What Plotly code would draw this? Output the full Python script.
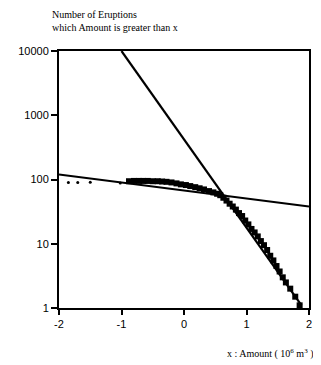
import plotly.graph_objects as go

# Data: log10 amount (10^6 m^3) vs cumulative number of eruptions
amount_log = [-1.85, -1.70, -1.50, -1.02, -0.88, -0.80, -0.72, -0.65, -0.58, -0.50,
              -0.42, -0.35, -0.28, -0.20, -0.12, -0.05, 0.03, 0.10, 0.18, 0.25,
              0.32, 0.40, 0.47, 0.53, 0.58, 0.63, 0.68, 0.73, 0.78, 0.83,
              0.88, 0.93, 0.98, 1.03, 1.08, 1.13, 1.18, 1.23, 1.28, 1.33,
              1.38, 1.43, 1.48, 1.53, 1.58, 1.63, 1.70, 1.78, 1.85]
counts = [90, 90, 91, 88, 94, 95, 95, 95, 95, 94,
          94, 93, 92, 90, 87, 84, 82, 79, 76, 73,
          70, 66, 63, 60, 57, 52, 47, 42, 38, 34,
          30, 27, 23, 20, 17, 15, 13, 11, 9.5, 8,
          6.5, 5.5, 4.5, 3.7, 3.0, 2.5, 2.0, 1.5, 1.1]

# Fitted lines (endpoints)
steep_x = [-1.0, 1.88]
steep_y = [10000, 1.1]
shallow_x = [-2.0, 2.0]
shallow_y = [120, 38]

x_ticks = [-2, -1, 0, 1, 2]
x_tick_labels = ["-2", "-1", "0", "1", "2"]
y_ticks = [1, 10, 100, 1000, 10000]
y_tick_labels = ["1", "10", "100", "1000", "10000"]

fig = go.Figure()
fig.add_trace(go.Scatter(x=shallow_x, y=shallow_y, mode="lines",
                         line=dict(color="black", width=2), showlegend=False))
fig.add_trace(go.Scatter(x=steep_x, y=steep_y, mode="lines",
                         line=dict(color="black", width=2.2), showlegend=False))
fig.add_trace(go.Scatter(x=amount_log[:4], y=counts[:4], mode="markers",
                         marker=dict(color="black", size=3, symbol="circle"),
                         showlegend=False))
fig.add_trace(go.Scatter(x=amount_log[4:], y=counts[4:], mode="markers",
                         marker=dict(color="black", size=6, symbol="square"),
                         showlegend=False))

fig.update_layout(
    width=313, height=357,
    margin=dict(l=51, r=9, t=43, b=57),
    paper_bgcolor="white", plot_bgcolor="white",
    font=dict(family="Liberation Sans, Arial", color="black", size=11),
    xaxis=dict(range=[-2, 2], tickvals=x_ticks, ticktext=x_tick_labels,
               showgrid=False, zeroline=False, showline=True, linecolor="black",
               linewidth=2, mirror=True, ticks="outside", ticklen=5, tickwidth=2,
               tickcolor="black", tickfont=dict(size=11, family="Liberation Sans, Arial")),
    yaxis=dict(type="log", range=[0, 4], tickvals=y_ticks, ticktext=y_tick_labels,
               showgrid=False, zeroline=False, showline=True, linecolor="black",
               linewidth=2, mirror=True, ticks="outside", ticklen=6, tickwidth=2,
               tickcolor="black", tickfont=dict(size=11, family="Liberation Sans, Arial")),
    annotations=[
        dict(text="Number of Eruptions<br>which Amount is greater than x",
             xref="paper", yref="paper", x=-0.035, y=1.0, yshift=44,
             xanchor="left", yanchor="top", showarrow=False, align="left",
             font=dict(family="Liberation Serif, Times New Roman", size=10)),
        dict(text="x : Amount ( 10<sup>6</sup> m<sup>3</sup> )",
             xref="paper", yref="paper", x=1.025, y=0, yshift=-37,
             xanchor="right", yanchor="top", showarrow=False,
             font=dict(family="Liberation Serif, Times New Roman", size=10)),
    ],
)

fig.write_html("out.html")
